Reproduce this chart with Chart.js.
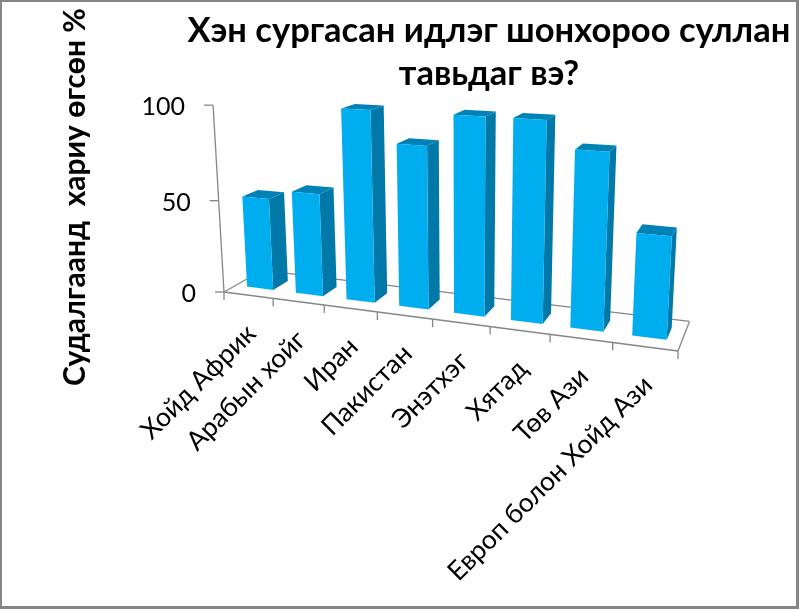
<!DOCTYPE html>
<html>
<head>
<meta charset="utf-8">
<style>
  body { margin: 0; background: #fff; }
  #wrap { position: relative; width: 799px; height: 609px; overflow: hidden; }
  #frame { position: absolute; left: 0; top: 0; right: 0; bottom: 0; border: solid #868686; border-width: 2px 3px 3px 2px; pointer-events: none; }
</style>
<script src="https://cdn.jsdelivr.net/npm/chart.js@4"></script>
</head>
<body>
<div id="wrap">
  <canvas id="myChart" width="799" height="609"></canvas>
  <div id="frame"></div>
</div>
<script>
var categories = ["Хойд Африк", "Арабын хойг", "Иран", "Пакистан", "Энэтхэг", "Хятад", "Төв Ази", "Европ болон Хойд Ази"];
var values = [50, 55, 100, 84, 100, 100, 87, 50];
var yTicks = [0, 50, 100];
var titleLines = ["Хэн сургасан идлэг шонхороо суллан", "тавьдаг вэ?"];
var yTitle = "Судалгаанд  хариу өгсөн %";

var FONT = "Lato, 'Open Sans', sans-serif";
var FRONT = "#00aeef", SIDE = "#0078a8", TOP = "#0082b6", AXIS = "#868686";

// perspective of the 3d box: u along categories, h up the value axis, z into depth (all 0..1)
function project(u, h, z) {
    var w = 1 - 0.15 * u + 0.0674 * z - 0.0436 * h;
    return {
        x: (224 + 352.3 * u + 56.2 * z - 20.2 * h) / w,
        y: (292 + 6.35 * u - 3.48 * z - 191.4 * h) / w
    };
}

function poly(ctx, pts, color) {
    ctx.beginPath();
    pts.forEach(function (p, i) {
        if (i == 0) ctx.moveTo(p.x, p.y); else ctx.lineTo(p.x, p.y);
    });
    ctx.closePath();
    ctx.fillStyle = color;
    ctx.fill();
}

function line(ctx, a, b) {
    ctx.beginPath();
    ctx.moveTo(a.x, a.y);
    ctx.lineTo(b.x, b.y);
    ctx.stroke();
}

var box3d = {
    id: "box3d",
    // floor, axes and labels go under the bars
    beforeDatasetsDraw: function (chart) {
        var ctx = chart.ctx, sx = chart.scales.x, sy = chart.scales.y;
        ctx.save();
        ctx.strokeStyle = AXIS;
        ctx.lineWidth = 1.3;

        line(ctx, project(0, 0, 0), project(1, 0, 0));
        line(ctx, project(1, 0, 0), project(1, 0, 1));
        line(ctx, project(1, 0, 1), project(0, 0, 1));
        line(ctx, project(0, 0, 1), project(0, 0, 0));
        line(ctx, project(0, 0, 0), project(0, 1, 0));

        // category tick marks
        for (var i = 0; i <= categories.length; i++) {
            var p = project(i / categories.length, 0, 0);
            line(ctx, p, { x: p.x, y: p.y + 8 });
        }

        // value axis ticks and labels
        ctx.fillStyle = "#000";
        ctx.font = "25px " + FONT;
        ctx.textAlign = "right";
        ctx.textBaseline = "middle";
        sy.ticks.forEach(function (t) {
            var h = (sy.bottom - sy.getPixelForValue(t.value)) / (sy.bottom - sy.top);
            var p = project(0, h, 0);
            line(ctx, { x: p.x - 9, y: p.y }, p);
            ctx.fillText(t.label, p.x - 28, p.y + 2);
        });

        // rotated category labels
        ctx.font = "26.5px " + FONT;
        categories.forEach(function (c, i) {
            var u = (sx.getPixelForValue(i) - sx.left) / (sx.right - sx.left);
            var p = project(u, 0, 0);
            ctx.save();
            ctx.translate(p.x + 3, p.y + 34);
            ctx.rotate(-Math.PI / 4);
            ctx.fillText(c, 0, 0);
            ctx.restore();
        });

        // value axis title
        ctx.save();
        ctx.translate(75, 197);
        ctx.rotate(-Math.PI / 2);
        ctx.textAlign = "center";
        ctx.font = "bold 30px " + FONT;
        ctx.fillText(yTitle, 0, 0);
        ctx.restore();

        ctx.restore();
    },
    // chart.js would draw flat bars, draw them as boxes from the same elements
    beforeDatasetDraw: function (chart, args) {
        var ctx = chart.ctx, area = chart.chartArea;
        var meta = chart.getDatasetMeta(args.index);
        meta.data.forEach(function (el) {
            var u0 = (el.x - el.width / 2 - area.left) / area.width;
            var u1 = (el.x + el.width / 2 - area.left) / area.width;
            var h = (el.base - el.y) / area.height;
            var z0 = 0.3, z1 = 0.7;
            poly(ctx, [project(u1, 0, z0), project(u1, 0, z1), project(u1, h, z1), project(u1, h, z0)], SIDE);
            poly(ctx, [project(u0, h, z0), project(u1, h, z0), project(u1, h, z1), project(u0, h, z1)], TOP);
            poly(ctx, [project(u0, 0, z0), project(u1, 0, z0), project(u1, h, z0), project(u0, h, z0)], FRONT);
        });
        return false;
    }
};

var ctx = document.getElementById("myChart").getContext("2d");
var myChart = new Chart(ctx, {
    type: "bar",
    data: {
        labels: categories,
        datasets: [{
            label: "Судалгаанд хариу өгсөн %",
            data: values,
            backgroundColor: FRONT,
            categoryPercentage: 1,
            barPercentage: 0.54
        }]
    },
    plugins: [box3d],
    options: {
        responsive: false,
        animation: false,
        layout: { padding: { left: 182, right: 3, top: 0, bottom: 200 } },
        plugins: {
            legend: { display: false },
            tooltip: { enabled: false },
            title: {
                display: true,
                fullSize: false,
                text: titleLines,
                color: "#000",
                font: { family: FONT, size: 34.5, weight: "bold", lineHeight: 1.25 },
                padding: { top: 9, bottom: 10 }
            }
        },
        scales: {
            x: { display: false },
            y: {
                display: false,
                min: 0,
                max: 100,
                afterBuildTicks: function (axis) {
                    axis.ticks = yTicks.map(function (v) { return { value: v, label: String(v) }; });
                }
            }
        }
    }
});
</script>
</body>
</html>
